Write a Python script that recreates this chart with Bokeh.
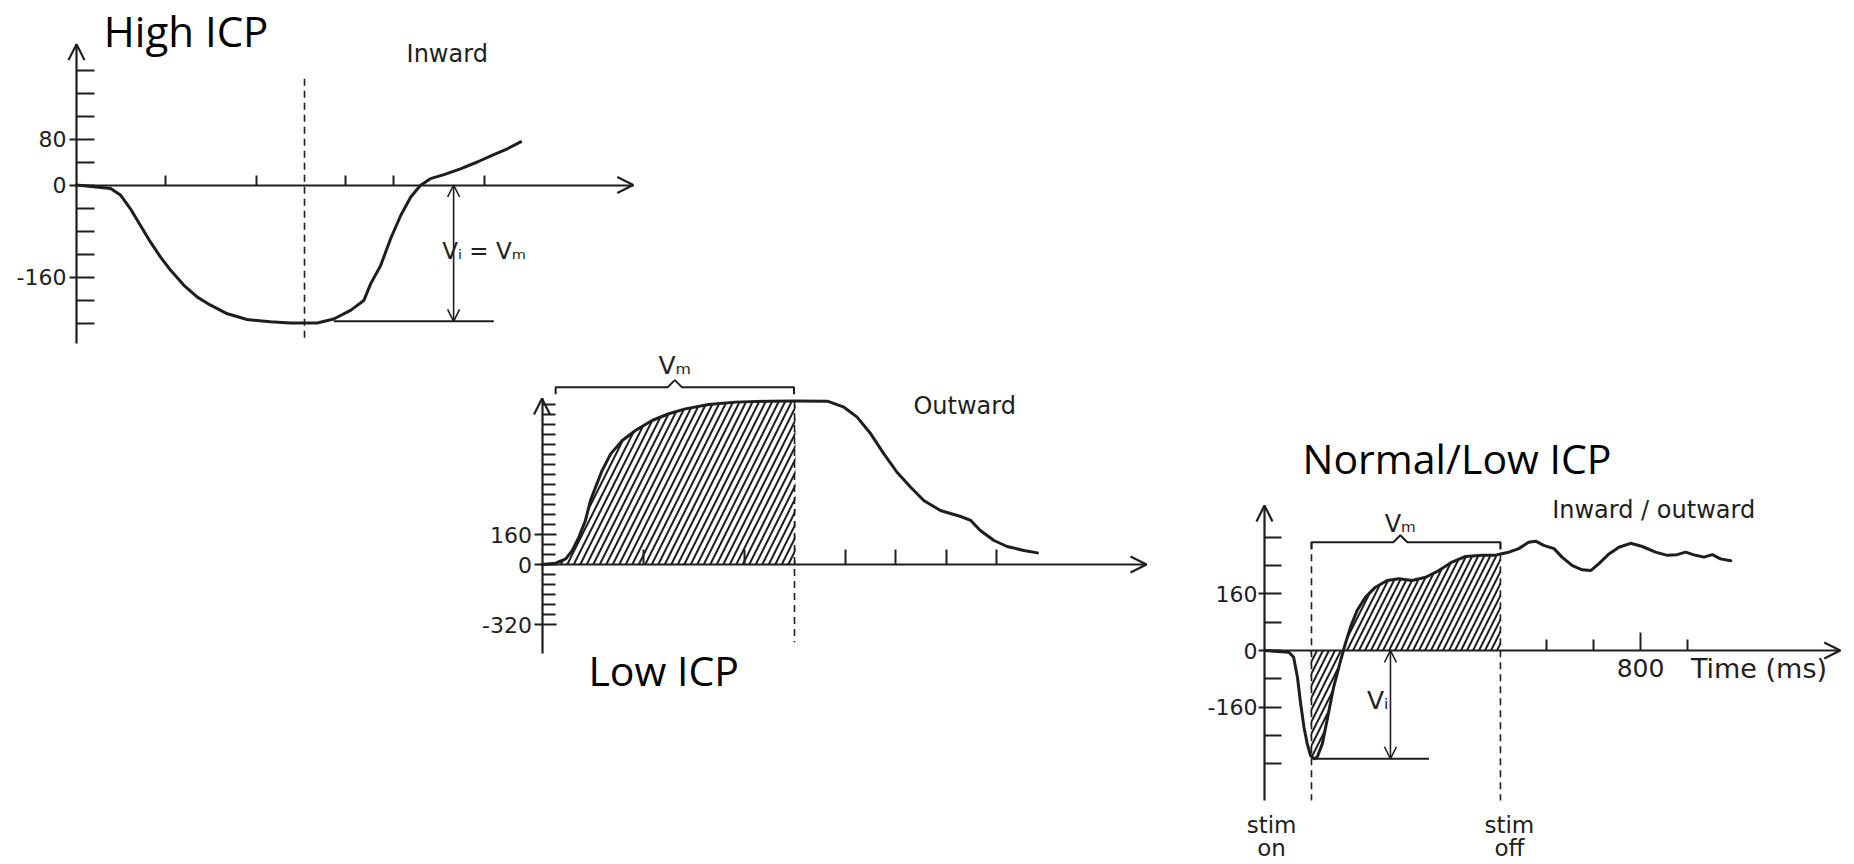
from bokeh.plotting import figure
from bokeh.models import Range1d, FixedTicker, Arrow, OpenHead, Spacer
from bokeh.layouts import column, row
from bokeh.embed import file_html
from bokeh.resources import INLINE
from bokeh.core.properties import value

# ---------------- data (time in ms, amplitude in panel units) ----------------
# Panel 1: High ICP, inward response
high_t = [0, 75, 97, 118, 140, 162, 184, 206, 235, 265, 294, 331, 374, 425, 469, 499,
          528, 564, 601, 630, 645, 667, 689, 711, 733, 754, 776, 806, 842, 879, 915, 945, 974]
high_v = [0, -6, -18, -41, -70, -99, -125, -148, -174, -195, -209, -224, -234, -238, -240,
          -240, -240, -233, -218, -201, -172, -140, -93, -53, -21, -1, 11, 18, 28, 40, 53, 63, 75]
high_yticks = [80, 0, -160]
high_ytick_labels = ["80", "0", "-160"]
high_yminor = [-240, -200, -120, -80, -40, 40, 120, 160, 200]
high_xticks = [195, 395, 590, 695, 895]
high_mark_t = 500
high_vi = -237

# Panel 2: Low ICP, outward response
low_t = [0, 27, 47, 60, 73, 86, 96, 106, 119, 136, 159, 185, 218, 251, 284, 330, 383, 449,
         502, 565, 598, 624, 651, 677, 703, 730, 756, 789, 829, 849, 868, 895, 921, 954, 981]
low_v = [0, 7, 30, 75, 146, 235, 341, 412, 501, 590, 661, 715, 768, 804, 830, 853, 866, 871,
         872, 871, 839, 786, 697, 590, 492, 412, 341, 288, 256, 235, 181, 128, 96, 75, 62]
low_yticks = [160, 0, -320]
low_ytick_labels = ["160", "0", "-320"]
low_ystep = 160 / 3
low_xticks = [200, 400, 600, 700, 800, 900]
low_stim_off = 500

# Panel 3: Normal/Low ICP, inward/outward response
norm_t = [0, 52, 62, 70, 77, 84, 91, 98, 105, 112, 123, 133, 147, 162, 172, 183, 197, 215,
          236, 261, 286, 314, 343, 371, 399, 428, 463, 491, 502, 520, 541, 562, 577, 594,
          616, 633, 655, 676, 694, 711, 733, 754, 779, 804, 832, 857, 878, 896, 917, 935,
          953, 970, 992]
norm_v = [0, -5, -19, -75, -151, -217, -264, -297, -306, -302, -264, -198, -104, -28, 19,
          66, 113, 151, 179, 198, 203, 198, 207, 226, 250, 266, 269, 269, 273, 278, 288,
          306, 309, 297, 288, 264, 240, 228, 226, 245, 273, 292, 303, 294, 278, 269, 271,
          278, 269, 264, 271, 259, 254]
norm_yticks = [160, 0, -160]
norm_ytick_labels = ["160", "0", "-160"]
norm_yminor = [-320, -240, -80, 80, 240, 320]
norm_xticks = [800]
norm_xtick_labels = ["800"]
norm_xminor = [600, 700, 900]
norm_stim_on = 100
norm_stim_off = 502
norm_vi = -306

INK = "#1e1e1e"
HAND = value("DejaVu Sans")
TITLE = value("Open Sans")
SCALE = {}


def make_panel(left, top, width, height, ox, oy, sx, sy):
    """Figure whose data origin sits at page pixel (ox, oy); sx, sy = px per unit."""
    xr = Range1d((left - ox) / sx, (left + width - ox) / sx)
    yr = Range1d((oy - (top + height)) / sy, (oy - top) / sy)
    p = figure(width=width, height=height, x_range=xr, y_range=yr,
               output_backend="svg", toolbar_location=None, min_border=0,
               outline_line_color=None, background_fill_color="white",
               border_fill_color="white")
    p.grid.visible = False
    p.xaxis.fixed_location = 0
    p.yaxis.fixed_location = 0
    for ax in (p.xaxis[0], p.yaxis[0]):
        ax.axis_line_color = INK
        ax.axis_line_width = 2.2
        ax.major_tick_line_color = INK
        ax.major_tick_line_width = 2
        ax.minor_tick_line_color = INK
        ax.minor_tick_line_width = 2
        ax.major_label_text_font = "DejaVu Sans"
        ax.major_label_text_font_size = "22px"
        ax.major_label_text_color = INK
    SCALE[id(p)] = (sx, sy)
    return p


def axis_arrows(p, x_tip, y_tip):
    p.add_layout(Arrow(end=OpenHead(size=16, line_color=INK, line_width=2.2),
                       x_start=x_tip - 1, y_start=0, x_end=x_tip, y_end=0,
                       line_color=INK, line_width=2.2))
    p.add_layout(Arrow(end=OpenHead(size=16, line_color=INK, line_width=2.2),
                       x_start=0, y_start=y_tip - 1, x_end=0, y_end=y_tip,
                       line_color=INK, line_width=2.2))


def bracket(p, x0, x1, xm, y):
    sx, sy = SCALE[id(p)]
    dx = 7 / sx
    dy = 7 / sy
    p.line([x0, x0, xm - dx, xm, xm + dx, x1, x1],
           [y - dy, y, y, y + dy, y, y, y - dy],
           line_color=INK, line_width=2)


def double_arrow(p, x, y0, y1):
    p.add_layout(Arrow(start=OpenHead(size=12, line_color=INK, line_width=1.6),
                       end=OpenHead(size=12, line_color=INK, line_width=1.6),
                       x_start=x, y_start=y0, x_end=x, y_end=y1,
                       line_color=INK, line_width=1.6))


def curve(p, t, v):
    p.line(t, v, line_color=INK, line_width=3, line_join="round", line_cap="round")


def hatch(p, t, v, scale):
    p.varea(x=t, y1=[0] * len(t), y2=v, fill_color=None, fill_alpha=0,
            hatch_pattern="/", hatch_color=INK, hatch_weight=2, hatch_scale=scale)


# ---------------- panel 1 ----------------
p1 = make_panel(0, 0, 650, 352, 76, 184.5, 0.456, 0.575)
xa, ya = p1.xaxis[0], p1.yaxis[0]
xa.ticker = FixedTicker(ticks=[], minor_ticks=high_xticks)
xa.bounds = (0, 1221)
xa.minor_tick_in, xa.minor_tick_out = 10, 0
ya.ticker = FixedTicker(ticks=high_yticks, minor_ticks=high_yminor)
ya.bounds = (-276, 245)
ya.major_tick_in, ya.major_tick_out = 18, 7
ya.minor_tick_in, ya.minor_tick_out = 18, 0
ya.major_label_standoff = 3
ya.major_label_overrides = dict(zip(high_yticks, high_ytick_labels))
axis_arrows(p1, 1221, 245)
curve(p1, high_t, high_v)
p1.line([high_mark_t, high_mark_t], [185, -273], line_color=INK, line_width=1.6,
        line_dash="7 5")
p1.line([564, 915], [high_vi, high_vi], line_color=INK, line_width=2)
double_arrow(p1, 827, 0, high_vi)
p1.text(x=[60], y=[269], text=["High ICP"], text_font=TITLE, text_font_size="42px",
        text_align="left", text_baseline="middle", text_color="black")
p1.text(x=[813], y=[228], text=["Inward"], text_font=HAND, text_font_size="24px",
        text_align="center", text_baseline="middle", text_color=INK)
p1.text(x=[802], y=[-115], text=["V\u1d62 = V\u2098"], text_font=HAND,
        text_font_size="23px", text_align="left", text_baseline="middle", text_color=INK)

# ---------------- panel 2 ----------------
p2 = make_panel(448, 352, 702, 350, 541.5, 564, 0.505, 0.1875)
xa, ya = p2.xaxis[0], p2.yaxis[0]
xa.ticker = FixedTicker(ticks=[], minor_ticks=low_xticks)
xa.bounds = (0, 1197)
xa.minor_tick_in, xa.minor_tick_out = 15, 0
low_yminor = [k * low_ystep for k in range(-5, 17) if k not in (0, 3)]
ya.ticker = FixedTicker(ticks=low_yticks, minor_ticks=low_yminor)
ya.bounds = (-475, 885)
ya.major_tick_in, ya.major_tick_out = 14, 8
ya.minor_tick_in, ya.minor_tick_out = 13, 0
ya.major_label_standoff = 2
ya.major_label_overrides = dict(zip(low_yticks, low_ytick_labels))
axis_arrows(p2, 1197, 885)
sel = [(t, v) for t, v in zip(low_t, low_v) if t <= low_stim_off + 2]
hatch(p2, [s[0] for s in sel], [s[1] for s in sel], 13)
curve(p2, low_t, low_v)
p2.line([low_stim_off, low_stim_off], [872, -414], line_color=INK, line_width=1.6,
        line_dash="7 5")
bracket(p2, 27, 499, 263, 946)
p2.text(x=[263], y=[1061], text=["V\u2098"], text_font=HAND, text_font_size="25px",
        text_align="center", text_baseline="middle", text_color=INK)
p2.text(x=[837], y=[848], text=["Outward"], text_font=HAND, text_font_size="24px",
        text_align="center", text_baseline="middle", text_color=INK)
p2.text(x=[92], y=[-565], text=["Low ICP"], text_font=TITLE, text_font_size="41px",
        text_align="left", text_baseline="middle", text_color="black")

# ---------------- panel 3 ----------------
p3 = make_panel(1150, 352, 700, 510, 1264, 650, 0.47, 0.35375)
xa, ya = p3.xaxis[0], p3.yaxis[0]
xa.ticker = FixedTicker(ticks=norm_xticks, minor_ticks=norm_xminor)
xa.bounds = (0, 1225)
xa.major_tick_in, xa.major_tick_out = 18, 0
xa.minor_tick_in, xa.minor_tick_out = 11, 0
xa.major_label_standoff = 8
xa.major_label_text_font_size = "25px"
xa.major_label_overrides = dict(zip(norm_xticks, norm_xtick_labels))
ya.ticker = FixedTicker(ticks=norm_yticks, minor_ticks=norm_yminor)
ya.bounds = (-424, 410)
ya.major_tick_in, ya.major_tick_out = 17, 6
ya.minor_tick_in, ya.minor_tick_out = 17, 0
ya.major_label_standoff = 1
ya.major_label_overrides = dict(zip(norm_yticks, norm_ytick_labels))
axis_arrows(p3, 1225, 410)
sel = [(t, v) for t, v in zip(norm_t, norm_v)
       if norm_stim_on - 2 <= t <= norm_stim_off]
hatch(p3, [s[0] for s in sel], [s[1] for s in sel], 12)
curve(p3, norm_t, norm_v)
for t in (norm_stim_on, norm_stim_off):
    p3.line([t, t], [306, -424], line_color=INK, line_width=1.6, line_dash="7 5")
bracket(p3, norm_stim_on, norm_stim_off, 289, 306)
p3.line([105, 350], [norm_vi, norm_vi], line_color=INK, line_width=2)
double_arrow(p3, 268, 0, norm_vi)
p3.text(x=[81], y=[544], text=["Normal/Low ICP"], text_font=TITLE, text_font_size="41px",
        text_align="left", text_baseline="middle", text_color="black")
p3.text(x=[828, 289], y=[396, 358], text=["Inward / outward", "V\u2098"],
        text_font=HAND, text_font_size="24px", text_align="center",
        text_baseline="middle", text_color=INK)
p3.text(x=[1052], y=[-51], text=["Time (ms)"], text_font=HAND, text_font_size="27px",
        text_align="center", text_baseline="middle", text_color=INK)
p3.text(x=[264], y=[-141], text=["V\u1d62"], text_font=HAND, text_font_size="25px",
        text_align="right", text_baseline="middle", text_color=INK)
p3.text(x=[15, 15, 521, 521], y=[-492, -558, -492, -558], text=["stim", "on", "stim", "off"],
        text_font=HAND, text_font_size="23px", text_align="center",
        text_baseline="middle", text_color=INK)

layout = column(p1, row(Spacer(width=448, height=10), p2, p3))
open("out.html", "w").write(file_html(layout, INLINE))
